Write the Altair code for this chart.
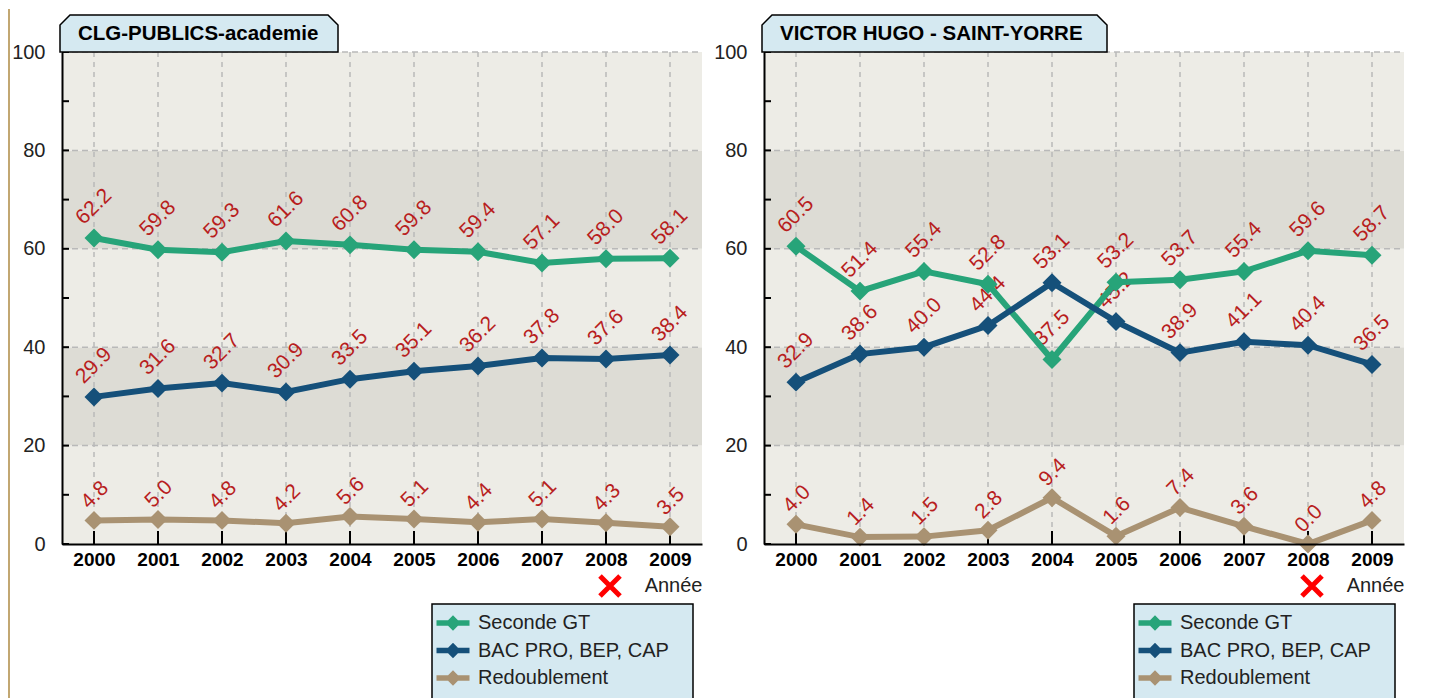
import altair as alt
import pandas as pd

# ---------------- data ----------------
years = ["2000", "2001", "2002", "2003", "2004", "2005", "2006", "2007", "2008", "2009"]
series = ["Seconde GT", "BAC PRO, BEP, CAP", "Redoublement"]
series_colors = ["#27a479", "#15507a", "#a99272"]

left_title = "CLG-PUBLICS-academie"
left_seconde = [62.2, 59.8, 59.3, 61.6, 60.8, 59.8, 59.4, 57.1, 58.0, 58.1]
left_bacpro = [29.9, 31.6, 32.7, 30.9, 33.5, 35.1, 36.2, 37.8, 37.6, 38.4]
left_redoub = [4.8, 5.0, 4.8, 4.2, 5.6, 5.1, 4.4, 5.1, 4.3, 3.5]

right_title = "VICTOR HUGO - SAINT-YORRE"
right_seconde = [60.5, 51.4, 55.4, 52.8, 37.5, 53.2, 53.7, 55.4, 59.6, 58.7]
right_bacpro = [32.9, 38.6, 40.0, 44.4, 53.1, 45.2, 38.9, 41.1, 40.4, 36.5]
right_redoub = [4.0, 1.4, 1.5, 2.8, 9.4, 1.6, 7.4, 3.6, 0.0, 4.8]

band_low = [0, 20, 40, 60, 80]
band_high = [20, 40, 60, 80, 100]
band_kind = ["light", "dark", "light", "dark", "light"]
grid_values = [20, 40, 60, 80, 100]
ytick_values = [0, 10, 20, 30, 40, 50, 60, 70, 80, 90, 100]
ylabel_values = [0, 20, 40, 60, 80, 100]
x_title = "Année"

# ---------------- style ----------------
W, H = 640, 492
FONT = "Liberation Sans"
LIGHT, DARK = "#edece6", "#dddcd5"
TAB_FILL = "#d5e9f1"
LABEL_RED = "#b81e1e"
GOLD = "#c2a772"
LEGEND_SYMBOL = ("M-1,-0.17L-0.3,-0.17L0,-0.47L0.3,-0.17L1,-0.17L1,0.17"
                 "L0.3,0.17L0,0.47L-0.3,0.17L-1,0.17Z")
CROSS = "M-1,-1L1,1M1,-1L-1,1"

# legend box geometry (relative to plot origin)
LEG_X0, LEG_X1, LEG_Y0, LEG_Y1 = 370, 631, 552, 652
LEG_ROW0, LEG_STEP = 571, 27.5
LEG_SYM_X, LEG_TXT_X = 391, 416

one_row = alt.Data(values=[{"k": 1}])


def tab_path(w):
    return (f"M-2,0L-2,-27L8,-37L{w - 12},-37L{w - 2},-27L{w - 2},0Z")


def panel(title, s1, s2, s3, tab_w, gold):
    rows = []
    for name, vals in zip(series, [s1, s2, s3]):
        for y, v in zip(years, vals):
            rows.append({"year": y, "series": name, "value": v})
    df = pd.DataFrame(rows)
    bands = pd.DataFrame({"lo": band_low, "hi": band_high, "kind": band_kind})
    grid = pd.DataFrame({"v": grid_values})
    yt = pd.DataFrame({"v": ytick_values})
    yrs = pd.DataFrame({"year": years})

    xscale = alt.Scale(type="point", domain=years, padding=0.5)
    yscale = alt.Scale(domain=[0, 100], nice=False, zero=True)
    cscale = alt.Scale(domain=series, range=series_colors)

    xaxis = alt.Axis(title=x_title, titleAnchor="end", titleFont=FONT,
                     titleFontWeight="normal", titleFontSize=20,
                     titleColor="#222222", titlePadding=6,
                     labelAngle=0, labelFont=FONT, labelFontWeight="bold",
                     labelFontSize=19, labelColor="black", labelPadding=6,
                     ticks=False, tickSize=0, grid=False, domain=True,
                     domainColor="black", domainWidth=2, zindex=1)
    yaxis = alt.Axis(title=None, values=ylabel_values, labelFont=FONT,
                     labelFontSize=20, labelColor="#222222", labelPadding=17,
                     ticks=False, tickSize=0, grid=False, domain=True,
                     domainColor="black", domainWidth=2, zindex=1)

    band_layer = alt.Chart(bands).mark_rect().encode(
        x=alt.value(0), x2=alt.value(W),
        y=alt.Y("lo:Q", scale=yscale, axis=yaxis), y2="hi:Q",
        fill=alt.Fill("kind:N", scale=alt.Scale(domain=["light", "dark"], range=[LIGHT, DARK]), legend=None),
    )
    hgrid = alt.Chart(grid).mark_rule(color="#b9b9b9", strokeWidth=1.5, strokeDash=[6, 4]).encode(
        y=alt.Y("v:Q", scale=yscale), x=alt.value(0), x2=alt.value(W))
    vgrid = alt.Chart(yrs).mark_rule(color="#b9b9b9", strokeWidth=1.5, strokeDash=[5, 5]).encode(
        x=alt.X("year:O", scale=xscale, axis=xaxis), y=alt.value(0), y2=alt.value(H))
    yticks = alt.Chart(yt).mark_rule(color="black", strokeWidth=2).encode(
        y=alt.Y("v:Q", scale=yscale), x=alt.value(0), x2=alt.value(7))
    xticks = alt.Chart(yrs).mark_rule(color="black", strokeWidth=2).encode(
        x=alt.X("year:O", scale=xscale), y=alt.value(H - 13), y2=alt.value(H))

    # value labels: rotated, centred above the point; short labels sit lower
    def label_layer(cond, dx, dy):
        return alt.Chart(df).transform_filter(cond).mark_text(
            angle=315, align="center", baseline="middle", dx=dx, dy=dy,
            font=FONT, fontSize=21, color=LABEL_RED).encode(
            x=alt.X("year:O", scale=xscale), y=alt.Y("value:Q", scale=yscale),
            text=alt.Text("value:Q", format=".1f"))

    labels_long = label_layer("datum.value >= 10", 22, -22)
    labels_short = label_layer("datum.value < 10", 18.5, -17)

    lines = alt.Chart(df).mark_line(strokeWidth=6).encode(
        x=alt.X("year:O", scale=xscale), y=alt.Y("value:Q", scale=yscale),
        color=alt.Color("series:N", scale=cscale, legend=None))
    points = alt.Chart(df).mark_point(shape="diamond", filled=True, size=360, opacity=1).encode(
        x=alt.X("year:O", scale=xscale), y=alt.Y("value:Q", scale=yscale),
        color=alt.Color("series:N", scale=cscale, legend=None))

    tab = alt.Chart(one_row).mark_point(shape=tab_path(tab_w), size=4, filled=True,
                                        fill=TAB_FILL, stroke="black", strokeWidth=1.5,
                                        opacity=1, fillOpacity=1, strokeOpacity=1).encode(
        x=alt.value(0), y=alt.value(0))
    tab_text = alt.Chart(one_row).mark_text(text=title, align="left", baseline="middle",
                                            font=FONT, fontSize=20.5, fontWeight="bold",
                                            color="black").encode(
        x=alt.value(16), y=alt.value(-18))
    cross = alt.Chart(one_row).mark_point(shape=CROSS, size=400, filled=False,
                                          stroke="#ff0000", strokeWidth=5, opacity=1).encode(
        x=alt.value(548), y=alt.value(534))

    # legend (drawn as marks, one entry per series)
    leg_box = alt.Chart(one_row).mark_rect(fill=TAB_FILL, stroke="black", strokeWidth=1.5).encode(
        x=alt.value(LEG_X0), x2=alt.value(LEG_X1), y=alt.value(LEG_Y0), y2=alt.value(LEG_Y1))
    leg_layers = [leg_box]
    for i, (name, col) in enumerate(zip(series, series_colors)):
        yy = LEG_ROW0 + i * LEG_STEP
        leg_layers.append(alt.Chart(one_row).mark_point(
            shape=LEGEND_SYMBOL, size=1089, filled=True, fill=col, strokeWidth=0, opacity=1
        ).encode(x=alt.value(LEG_SYM_X), y=alt.value(yy)))
        leg_layers.append(alt.Chart(one_row).mark_text(
            text=name, align="left", baseline="middle", font=FONT, fontSize=20, color="#222222"
        ).encode(x=alt.value(LEG_TXT_X), y=alt.value(yy)))

    layers = [band_layer, hgrid, vgrid, yticks, xticks, labels_long, labels_short,
              lines, points, tab, tab_text, cross] + leg_layers
    if gold:
        layers.append(alt.Chart(one_row).mark_rule(color=GOLD, strokeWidth=2).encode(
            x=alt.value(-53), y=alt.value(-43), y2=alt.value(H + 160)))
    else:
        layers.append(alt.Chart(one_row).mark_rule(color="white", strokeWidth=1).encode(
            x=alt.value(320), y=alt.value(-43), y2=alt.value(-41)))
    return alt.layer(*layers).properties(width=W, height=H)


left = panel(left_title, left_seconde, left_bacpro, left_redoub, 278, True)
right = panel(right_title, right_seconde, right_bacpro, right_redoub, 345, False)

chart = alt.hconcat(left, right, spacing=10).properties(
    padding={"left": 0, "top": 0, "right": 5, "bottom": 0},
    background="white",
).configure_view(strokeWidth=0)

chart.save("out.html", embed_options={"renderer": "svg", "actions": False})
